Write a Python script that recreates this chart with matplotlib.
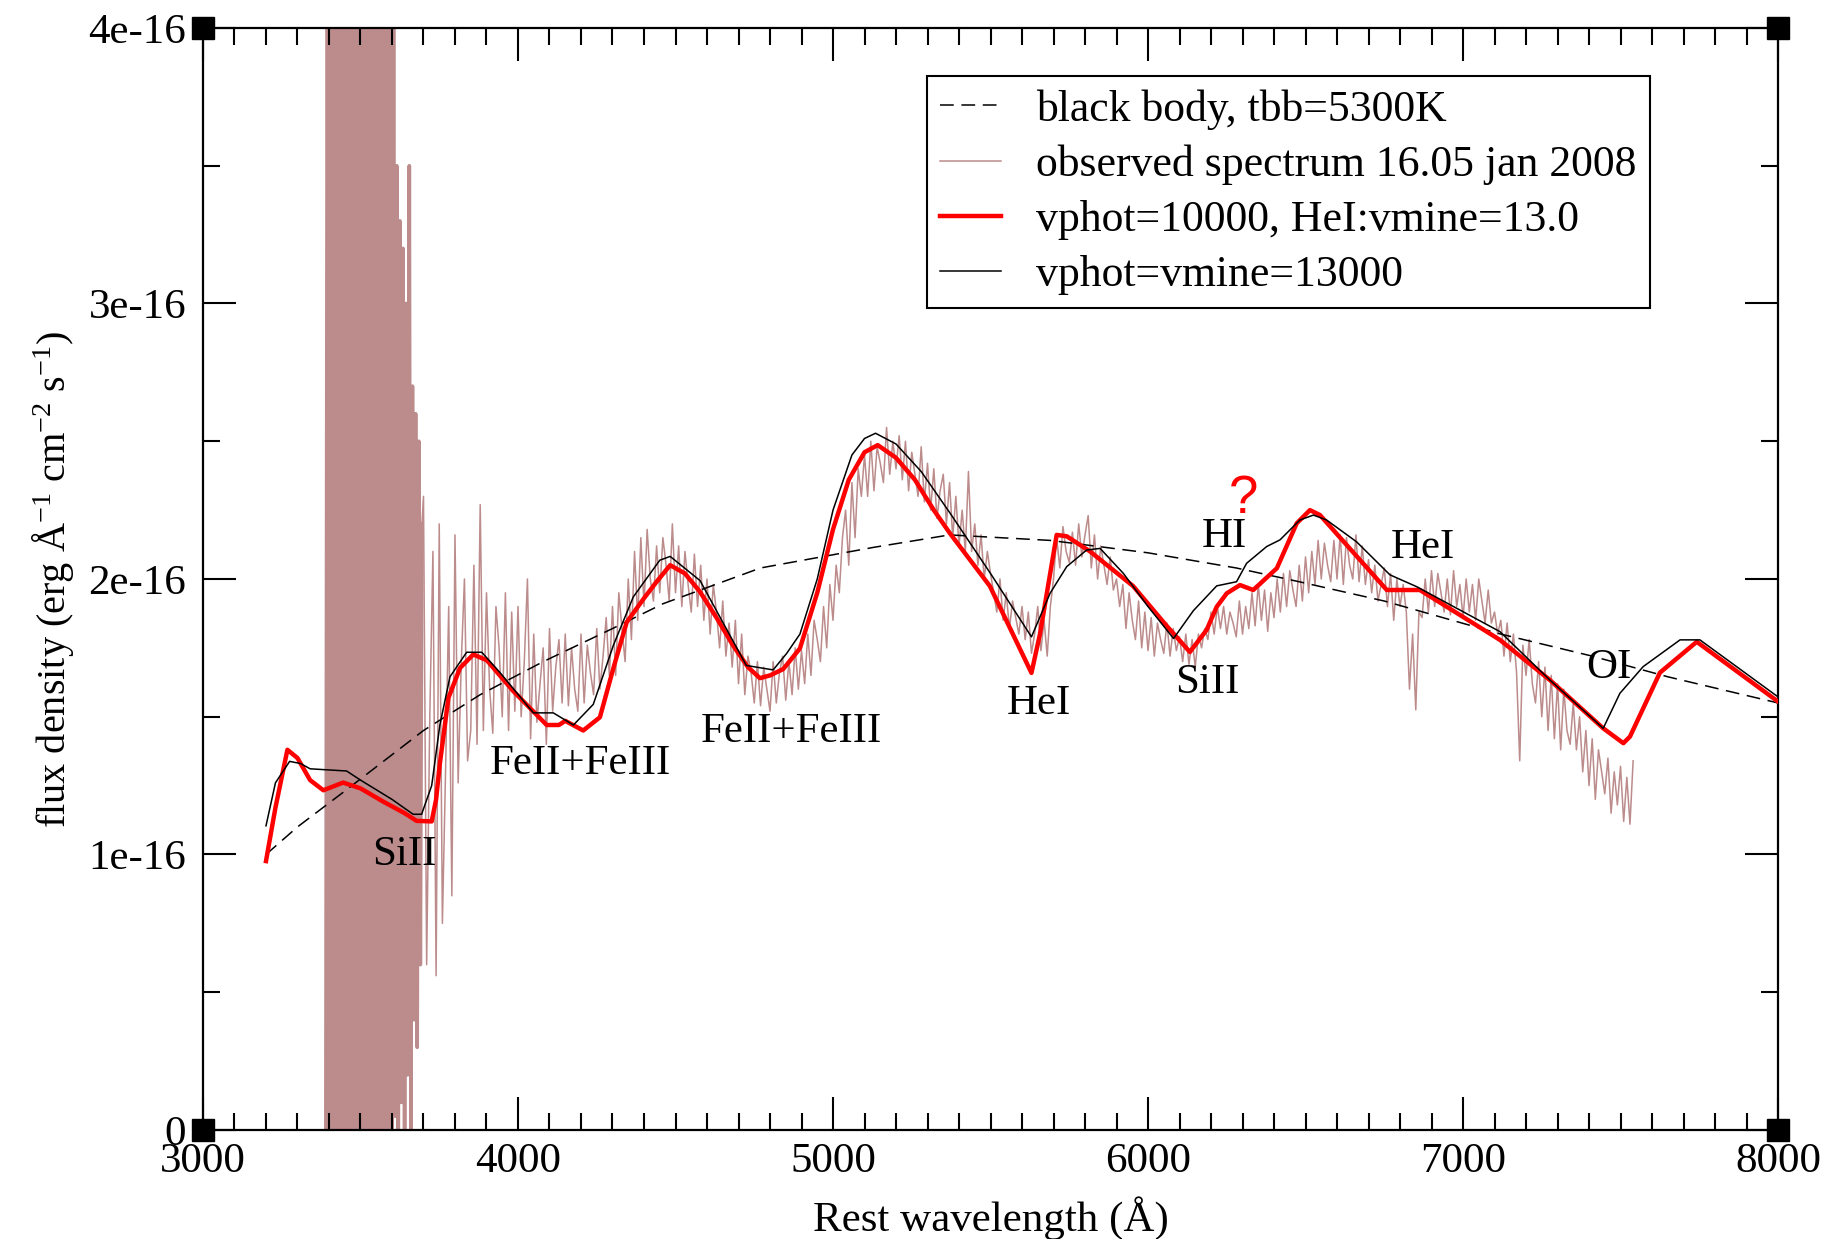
import numpy as np
import matplotlib
matplotlib.use('Agg')
import matplotlib.pyplot as plt
import matplotlib.ticker as mticker

plt.rcParams['font.family'] = ['Liberation Serif', 'DejaVu Serif']
plt.rcParams['mathtext.fontset'] = 'custom'
plt.rcParams['mathtext.rm'] = 'Liberation Serif'
plt.rcParams['mathtext.it'] = 'Liberation Serif:italic'

FS = 31
OBS_COLOR = '#bc8b8b'

# flux values are in units of 1e-16 erg/s/cm^2/A
bb_wave = [3200, 3300, 3450, 3700, 3880, 4080, 4300, 4460, 4770, 5130,
           5370, 5690, 6000, 6280, 6480, 6750, 7120, 7410, 7650, 8000]
bb_flux = [1.00, 1.10, 1.23, 1.45, 1.58, 1.70, 1.82, 1.91, 2.04, 2.115,
           2.16, 2.14, 2.095, 2.04, 1.99, 1.92, 1.80, 1.72, 1.645, 1.55]

model_a_wave = [3200, 3230, 3268, 3300, 3340, 3382, 3445, 3500, 3572, 3640,
                3678, 3726, 3740, 3752, 3779, 3816, 3858, 3901, 3985, 4091,
                4130, 4150, 4207, 4260, 4303, 4345, 4398, 4440, 4483, 4530,
                4578, 4630, 4683, 4730, 4768, 4800, 4842, 4895, 4950, 5000,
                5050, 5100, 5142, 5200, 5260, 5320, 5371, 5498, 5630, 5657,
                5710, 5742, 5816, 5953, 6059, 6133, 6186, 6218, 6250, 6292,
                6334, 6409, 6472, 6514, 6546, 6758, 6863, 7117, 7276, 7445,
                7509, 7530, 7625, 7742, 8000]
model_a_flux = [0.976, 1.17, 1.38, 1.35, 1.27, 1.233, 1.261, 1.24, 1.192, 1.15,
                1.122, 1.12, 1.20, 1.33, 1.568, 1.677, 1.726, 1.705, 1.593, 1.47,
                1.47, 1.485, 1.45, 1.498, 1.677, 1.843, 1.927, 1.99, 2.05, 2.02,
                1.953, 1.86, 1.758, 1.68, 1.64, 1.65, 1.673, 1.748, 1.95, 2.18,
                2.36, 2.46, 2.486, 2.44, 2.36, 2.25, 2.166, 1.974, 1.659, 1.80,
                2.16, 2.155, 2.10, 1.974, 1.83, 1.735, 1.815, 1.899, 1.948, 1.978,
                1.96, 2.039, 2.202, 2.25, 2.232, 1.96, 1.96, 1.779, 1.633, 1.458,
                1.404, 1.428, 1.66, 1.772, 1.555]

model_b_wave = [3200, 3230, 3275, 3310, 3340, 3456, 3500, 3600, 3667, 3694,
                3726, 3752, 3784, 3837, 3885, 3943, 4049, 4112, 4176, 4239,
                4303, 4366, 4450, 4483, 4578, 4725, 4810, 4853, 4895, 4950,
                5000, 5060, 5100, 5135, 5200, 5280, 5371, 5500, 5630, 5689,
                5742, 5805, 5848, 5922, 6000, 6081, 6144, 6218, 6281, 6313,
                6377, 6419, 6482, 6525, 6567, 6662, 6768, 6853, 7117, 7276,
                7445, 7498, 7572, 7689, 7752, 8000]
model_b_flux = [1.104, 1.26, 1.338, 1.33, 1.311, 1.303, 1.27, 1.20, 1.146, 1.146,
                1.25, 1.47, 1.645, 1.734, 1.734, 1.66, 1.514, 1.514, 1.47, 1.545,
                1.76, 1.935, 2.068, 2.082, 1.994, 1.686, 1.67, 1.73, 1.80, 2.00,
                2.25, 2.45, 2.51, 2.529, 2.49, 2.39, 2.24, 2.02, 1.79, 1.948,
                2.045, 2.105, 2.111, 2.02, 1.90, 1.784, 1.885, 1.975, 1.99, 2.057,
                2.118, 2.142, 2.214, 2.232, 2.214, 2.135, 2.015, 1.972, 1.809, 1.633,
                1.458, 1.585, 1.682, 1.779, 1.779, 1.572]

# blue end of the observed spectrum, 5 A sampling (3390-3695)
obs_blue_flux = [
    0.0, 4.6, 0.0, 4.6, 0.0, 4.6, 0.0, 4.6, 0.0, 4.6,
    0.0, 4.6, 0.0, 4.6, 0.0, 4.6, 0.0, 4.6, 0.0, 4.6,
    0.0, 4.6, 0.0, 4.6, 0.0, 4.6, 0.0, 4.6, 0.0, 4.6,
    0.0, 4.6, 0.0, 4.6, 0.0, 4.6, 0.0, 4.6, 0.0, 4.6,
    0.0, 4.6, 0.0, 4.6, 0.05, 3.5, 0.0, 3.3, 0.1, 3.2,
    0.0, 3.0, 0.2, 3.5, 0.0, 2.7, 0.4, 2.6, 0.3, 2.5,
    0.6, 2.2,
]
# rest of the observed spectrum, 10 A sampling (3700-7540)
obs_red_flux = [
    2.3, 0.6, 1.5, 2.1, 0.56, 2.2, 0.75, 1.3, 1.9, 0.85,
    2.16, 1.26, 1.7, 2.0, 1.34, 1.45, 2.05, 1.4, 2.27, 1.45,
    1.95, 1.6, 1.44, 1.9, 1.75, 1.5, 1.95, 1.45, 1.88, 1.52,
    1.9, 1.5, 1.7, 2.0, 1.42, 1.8, 1.48, 1.62, 1.75, 1.4,
    1.82, 1.52, 1.68, 1.78, 1.55, 1.8, 1.54, 1.75, 1.6, 1.52,
    1.8, 1.55, 1.76, 1.66, 1.58, 1.82, 1.6, 1.72, 1.86, 1.65,
    1.9, 1.65, 1.95, 1.82, 1.7, 2.0, 1.78, 2.1, 1.85, 2.15,
    1.9, 2.18, 2.0, 1.92, 2.12, 1.95, 2.15, 2.05, 1.92, 2.2,
    1.95, 2.12, 1.9, 2.1, 1.98, 1.88, 2.09, 1.9, 2.05, 1.85,
    2.0, 1.8, 1.98, 1.88, 1.75, 1.92, 1.72, 1.84, 1.68, 1.85,
    1.62, 1.8, 1.58, 1.72, 1.66, 1.55, 1.7, 1.54, 1.68, 1.6,
    1.52, 1.7, 1.55, 1.66, 1.72, 1.56, 1.7, 1.58, 1.75, 1.6,
    1.74, 1.62, 1.8, 1.65, 1.85, 1.78, 1.7, 1.9, 1.75, 1.98,
    1.85, 2.05, 1.95, 2.15, 2.25, 2.05, 2.35, 2.15, 2.4, 2.3,
    2.45, 2.3, 2.5, 2.32, 2.48, 2.42, 2.35, 2.55, 2.38, 2.5,
    2.4, 2.52, 2.36, 2.5, 2.32, 2.46, 2.38, 2.3, 2.48, 2.28,
    2.42, 2.25, 2.4, 2.22, 2.32, 2.38, 2.2, 2.35, 2.15, 2.3,
    2.12, 2.25, 2.1, 2.39, 2.1, 2.2, 2.05, 2.16, 2.0, 2.1,
    2.02, 1.95, 1.88, 2.0, 1.85, 1.95, 1.82, 1.92, 1.86, 1.8,
    1.9, 1.78, 1.88, 1.73, 1.8, 1.9, 1.74, 1.85, 1.72, 1.9,
    2.0, 2.15, 2.04, 2.19, 2.1, 2.06, 2.17, 2.05, 2.2, 2.08,
    2.16, 2.23, 2.04, 2.16, 2.0, 2.12, 2.05, 1.98, 2.08, 1.96,
    2.0, 1.9, 1.98, 1.82, 1.95, 1.85, 1.78, 1.92, 1.75, 1.88,
    1.74, 1.86, 1.72, 1.84, 1.78, 1.73, 1.84, 1.72, 1.82, 1.74,
    1.79, 1.7, 1.8, 1.69, 1.78, 1.68, 1.8, 1.75, 1.82, 1.78,
    1.88, 1.8, 1.9, 1.82, 1.9, 1.8, 1.88, 1.84, 1.79, 1.92,
    1.8, 1.9, 1.82, 1.95, 1.83, 1.98, 1.85, 1.96, 1.81, 1.95,
    1.86, 2.0, 1.88, 2.02, 1.9, 2.03, 1.96, 1.9, 2.05, 1.92,
    2.08, 1.95, 2.1, 1.98, 2.14, 2.0, 2.13, 2.05, 1.99, 2.14,
    2.0, 2.16, 1.98, 2.15, 2.05, 2.0, 2.16, 1.99, 2.12, 1.98,
    2.07, 1.95, 2.05, 1.92, 1.98, 2.04, 1.9, 2.02, 1.85, 2.0,
    1.9, 1.98, 1.88, 1.6, 1.8, 1.525, 1.88, 1.86, 2.0, 1.88,
    2.03, 1.9, 2.02, 1.95, 1.88, 2.0, 1.87, 2.03, 1.9, 1.98,
    1.86, 2.0, 1.88, 1.98, 1.85, 2.0, 1.92, 1.84, 1.96, 1.84,
    1.88, 1.8, 1.85, 1.72, 1.84, 1.7, 1.8, 1.66, 1.34, 1.76,
    1.65, 1.78, 1.62, 1.55, 1.7, 1.5, 1.68, 1.45, 1.65, 1.42,
    1.62, 1.38, 1.6, 1.45, 1.4, 1.55, 1.38, 1.5, 1.3, 1.45,
    1.25, 1.42, 1.2, 1.38, 1.3, 1.22, 1.35, 1.15, 1.3, 1.18,
    1.32, 1.12, 1.28, 1.11, 1.34,
]
obs_blue_wave = np.arange(3390, 3700, 5)
obs_wave = np.concatenate([obs_blue_wave, np.arange(3700, 7541, 10)])
obs_flux = np.array(obs_blue_flux + obs_red_flux)

# line identifications: (label, wavelength, flux)
line_ids = [
    ('SiII', 3638, 0.998),
    ('FeII+FeIII', 4197, 1.328),
    ('FeII+FeIII', 4867, 1.445),
    ('HeI', 5654, 1.546),
    ('SiII', 6187, 1.622),
    ('HI', 6241, 2.152),
    ('HeI', 6873, 2.113),
    ('OI', 7463, 1.677),
]
# hand-written query mark next to the HI identification
query_pos = (6303, 2.29)

y_ticks = [0, 1, 2, 3, 4]
y_tick_labels = ['0', '1e-16', '2e-16', '3e-16', '4e-16']


fig = plt.figure(figsize=(18.37, 12.39), dpi=100)
ax = fig.add_axes([0.1105, 0.0880, 0.8574, 0.8894])

ax.plot(obs_wave, obs_flux, color=OBS_COLOR, lw=1.1, zorder=1,
        label='observed spectrum 16.05 jan 2008')
# the saturated blue end is so dense that it prints as a solid band
ax.plot(obs_blue_wave, obs_blue_flux, color=OBS_COLOR, lw=2.6, zorder=1)
ax.plot(bb_wave, bb_flux, color='black', lw=1.1, dashes=(9, 5), zorder=2,
        label='black body, tbb=5300K')
ax.plot(model_a_wave, model_a_flux, color='#ff0000', lw=3.2, zorder=3,
        label='vphot=10000, HeI:vmine=13.0')
ax.plot(model_b_wave, model_b_flux, color='black', lw=1.1, zorder=4,
        label='vphot=vmine=13000')

for text, wl, fl in line_ids:
    ax.text(wl, fl, text, fontsize=FS, ha='center', va='center', zorder=5)
ax.text(*query_pos, '?', color='#ff0000', fontsize=38, family='Liberation Sans',
        ha='center', va='center', zorder=5)

ax.set_xlim(3000, 8000)
ax.set_ylim(0, 4)
ax.xaxis.set_major_locator(mticker.MultipleLocator(1000))
ax.xaxis.set_minor_locator(mticker.MultipleLocator(100))
ax.yaxis.set_major_locator(mticker.FixedLocator(y_ticks))
ax.yaxis.set_major_formatter(mticker.FixedFormatter(y_tick_labels))
ax.yaxis.set_minor_locator(mticker.MultipleLocator(0.5))
ax.tick_params(which='both', direction='in', top=True, right=True, width=1.5,
               labelsize=FS)
ax.tick_params(axis='x', pad=9)
ax.tick_params(axis='y', pad=12)
ax.tick_params(which='major', length=24)
ax.tick_params(which='minor', length=12)
for sp in ax.spines.values():
    sp.set_linewidth(1.6)

ax.set_xlabel('Rest wavelength (Å)', fontsize=FS)
ax.xaxis.label.set_va('center')
ax.xaxis.set_label_coords(0.5, -0.080)
ax.set_ylabel('flux density (erg Å$^{-1}$ cm$^{-2}$ s$^{-1}$)', fontsize=29)
ax.yaxis.label.set_va('center')
ax.yaxis.set_label_coords(-0.095, 0.5)

# black corner squares
corner_x = [3000, 8000, 3000, 8000]
corner_y = [0, 0, 4, 4]
ax.plot(corner_x, corner_y, ls='none', marker='s', ms=15.5, color='black',
        clip_on=False, zorder=6)

handles, labels = ax.get_legend_handles_labels()
order = [1, 0, 2, 3]
leg = ax.legend([handles[i] for i in order], [labels[i] for i in order],
                loc='upper left', bbox_to_anchor=(0.4597, 0.9565), borderaxespad=0,
                fontsize=31.5, handlelength=1.4, handletextpad=0.8, borderpad=0.3,
                labelspacing=0.345, fancybox=False, framealpha=1, edgecolor='black')
leg.get_frame().set_linewidth(1.5)

fig.savefig('out.png', dpi=100)
